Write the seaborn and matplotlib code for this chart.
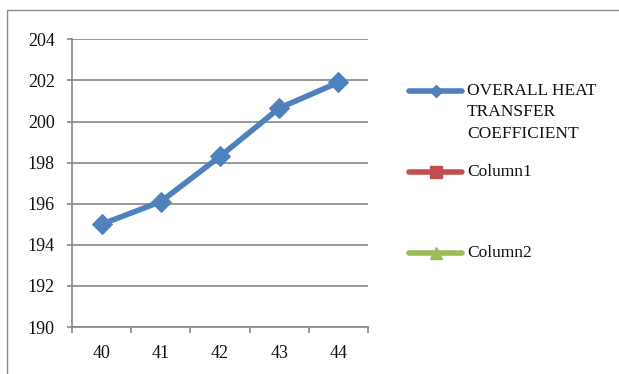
import matplotlib
matplotlib.use("Agg")
import matplotlib.pyplot as plt
import seaborn as sns
import pandas as pd
from matplotlib.lines import Line2D
from matplotlib.patches import Rectangle

# Data
temperatures = [40, 41, 42, 43, 44]
overall_htc = [195.0, 196.1, 198.3, 200.65, 201.9]
column1 = []
column2 = []
y_ticks = [190, 192, 194, 196, 198, 200, 202, 204]
legend_labels = ["OVERALL HEAT\nTRANSFER\nCOEFFICIENT", "Column1", "Column2"]

df = pd.DataFrame({"x": temperatures, "y": overall_htc})

sns.set_theme(style="white")
plt.rcParams["font.family"] = ["Liberation Serif", "DejaVu Serif"]

W, H = 619, 374
fig = plt.figure(figsize=(W / 100, H / 100), dpi=100)

# outer chart frame
fig.patches.append(Rectangle((7 / W, -0.1), 1.2, 1 - 10.5 / H + 0.1,
                             transform=fig.transFigure, fill=False,
                             edgecolor="#8a8a8a", linewidth=1.0))

ax = fig.add_axes([72 / W, 1 - 327 / H, 296 / W, (327 - 39.3) / H])

blue = "#4F81BD"
red = "#C0504D"
green = "#9BBB59"
colors = [blue, red, green]
markers = ["D", "s", "^"]

sns.lineplot(data=df, x="x", y="y", ax=ax, color=blue, linewidth=4.0,
             marker="D", markersize=10, markeredgecolor=blue, legend=False)
ax.plot(column1, column1, color=red, linewidth=4.0, marker="s")
ax.plot(column2, column2, color=green, linewidth=4.0, marker="^")

ax.set_xlim(39.5, 44.5)
ax.set_ylim(190, 204)
ax.set_yticks(y_ticks)
ax.set_xticks(temperatures)
ax.set_xticklabels([str(t) for t in temperatures])
ax.set_xticks([39.5, 40.5, 41.5, 42.5, 43.5, 44.5], minor=True)
ax.set_xlabel("")
ax.set_ylabel("")

grid_c = "#878787"
ax.grid(axis="y", color=grid_c, linewidth=1.2)
ax.set_axisbelow(True)
for s in ["top", "right"]:
    ax.spines[s].set_visible(False)
for s in ["left", "bottom"]:
    ax.spines[s].set_color(grid_c)
    ax.spines[s].set_linewidth(1.2)

ax.tick_params(axis="y", which="major", left=True, length=3.5, width=1.2,
               color=grid_c, pad=9, labelsize=13, labelcolor="#111111")
ax.tick_params(axis="x", which="major", bottom=False, length=0, pad=13,
               labelsize=13, labelcolor="#111111")
ax.tick_params(axis="x", which="minor", bottom=True, length=4, width=1.2,
               color=grid_c)

# legend keys drawn in figure pixel coordinates
key_x0, key_x1, text_x = 409, 462, 467
key_y = [90.7, 172, 253]
marker_sizes = [6, 8.5, 8]
for lab, c, m, ms, yy in zip(legend_labels, colors, markers, marker_sizes, key_y):
    yf = 1 - yy / H
    fig.add_artist(Line2D([key_x0 / W, key_x1 / W], [yf, yf],
                          transform=fig.transFigure, color=c,
                          linewidth=4.0, solid_capstyle="round"))
    fig.add_artist(Line2D([(key_x0 + key_x1) / 2 / W], [yf],
                          transform=fig.transFigure, color=c, marker=m,
                          markersize=ms, linestyle="none"))
    fig.text(text_x / W, yf + 8 / H, lab, ha="left", va="top",
             fontsize=12.5, color="#111111", linespacing=1.45)

fig.savefig("out.png", dpi=100)
